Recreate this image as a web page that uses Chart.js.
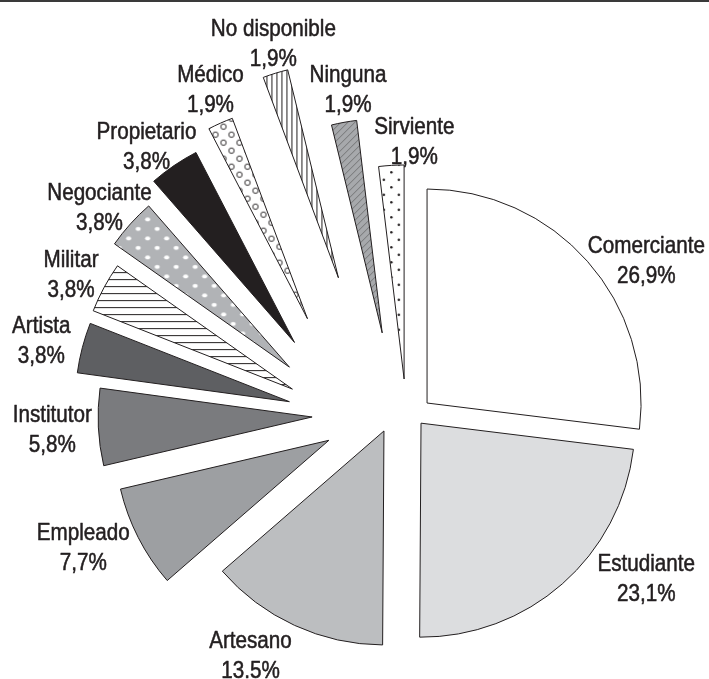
<!DOCTYPE html>
<html><head><meta charset="utf-8">
<script src="https://cdn.jsdelivr.net/npm/chart.js@4.4.1/dist/chart.umd.min.js"></script>
<style>html,body{margin:0;padding:0;background:#fff;}canvas{display:block;}</style>
</head><body>
<canvas id="c" width="709" height="679"></canvas>
<script>
// ---- data ----
const categories = ['Comerciante','Estudiante','Artesano','Empleado','Institutor','Artista','Militar','Negociante','Propietario','Médico','No disponible','Ninguna','Sirviente'];
const shares = [26.9, 23.1, 13.5, 7.7, 5.8, 3.8, 3.8, 3.8, 3.8, 1.9, 1.9, 1.9, 1.9];
const shareLabels = ['26,9%','23,1%','13.5%','7,7%','5,8%','3,8%','3,8%','3,8%','3,8%','1,9%','1,9%','1,9%','1,9%'];

// ---- style: explosion of each slice (radial / tangential px) ----
const explodeRadial = [48.8, 20.8, 2.7, 54.7, 71.3, 98.2, 99.1, 111, 121.1, 131, 157, 93.9, 47.7];
const explodeTangential = [9.8, -31, -1.2, 14.1, 14.4, 1.6, -9.2, -18.1, -25.8, -25.5, 0.7, 15.2, 23];
// label block offset from the slice's outer-arc midpoint
const labelDX = [59, 84, -44, -55, -46, -41, -33, -31, -27.5, -10, -2, 4, 23];
const labelDY = [-1.5, -6.5, 29, 9, 1, -8, -14, -17.5, -20.5, -35, -31, -34, -25];

const INK = '#231f20';
const canvas = document.getElementById('c');
const ctx0 = canvas.getContext('2d');

function pattern(w, h, bg, fn) {
  const c = document.createElement('canvas'); c.width = w; c.height = h;
  const g = c.getContext('2d'); g.fillStyle = bg; g.fillRect(0, 0, w, h); fn(g, w, h);
  return ctx0.createPattern(c, 'repeat');
}
const pMilitar = pattern(8, 7, '#ffffff', (g, w) => { g.strokeStyle = INK; g.lineWidth = 1; g.beginPath(); g.moveTo(0, 3.5); g.lineTo(w, 3.5); g.stroke(); });
const pNegociante = pattern(19, 19, '#b1b3b6', g => { g.fillStyle = '#ffffff'; [[4.75,4.75],[14.25,14.25]].forEach(([x,y]) => { g.beginPath(); g.ellipse(x, y, 2.6, 2.0, 0, 0, Math.PI*2); g.fill(); }); });
const pMedico = pattern(16, 16, '#ffffff', g => { g.strokeStyle = INK; g.lineWidth = 0.9; [[4,4],[12,12]].forEach(([x,y]) => { g.beginPath(); g.arc(x, y, 2.7, 0, Math.PI*2); g.stroke(); }); });
const pNoDisp = pattern(5, 5, '#ffffff', g => { g.strokeStyle = INK; g.lineWidth = 1; g.beginPath(); g.moveTo(2.5, 0); g.lineTo(2.5, 5); g.stroke(); });
const pNinguna = pattern(7, 7, '#a7a9ac', g => { g.strokeStyle = '#5a5a5c'; g.lineWidth = 0.7; g.beginPath(); g.moveTo(0, 7); g.lineTo(7, 0); g.moveTo(-1, 1); g.lineTo(1, -1); g.moveTo(6, 8); g.lineTo(8, 6); g.stroke(); });
const pSirviente = pattern(15, 15, '#ffffff', g => { g.fillStyle = INK; [[3.75,3.75],[11.25,11.25]].forEach(([x,y]) => { g.beginPath(); g.arc(x, y, 1.25, 0, Math.PI*2); g.fill(); }); });

const fills = ['#ffffff', '#dcdddf', '#bcbec0', '#9d9fa2', '#7a7b7e', '#5e5f62', pMilitar, pNegociante, INK, pMedico, pNoDisp, pNinguna, pSirviente];

function shiftOf(arc, i) {
  const a = (arc.startAngle + arc.endAngle) / 2;
  const r = explodeRadial[i], t = explodeTangential[i];
  return { dx: r * Math.cos(a) - t * Math.sin(a), dy: r * Math.sin(a) + t * Math.cos(a), a };
}

const explodePlugin = {
  id: 'explodeLabels',
  beforeDraw(chart) {
    const c = chart.ctx;
    c.save(); c.fillStyle = '#ffffff'; c.fillRect(0, 0, chart.width, chart.height);
    c.strokeStyle = '#3a3a3a'; c.lineWidth = 2; c.beginPath(); c.moveTo(0, 1); c.lineTo(chart.width, 1); c.stroke();
    c.restore();
  },
  beforeDatasetsDraw(chart) {
    const meta = chart.getDatasetMeta(0);
    meta.data.forEach((arc, i) => {
      if (arc._exploded) return;
      const base = arc.draw;
      arc.draw = function (ctx, area) {
        const s = shiftOf(this, i);
        ctx.save(); ctx.translate(s.dx, s.dy); base.call(this, ctx, area); ctx.restore();
      };
      arc._exploded = true;
    });
  },
  afterDatasetsDraw(chart) {
    const c = chart.ctx;
    const meta = chart.getDatasetMeta(0);
    c.save();
    c.fillStyle = INK;
    c.strokeStyle = INK;
    c.lineWidth = 0.55;
    c.lineJoin = 'round';
    c.font = '24px "Liberation Sans", Arial, sans-serif';
    c.textAlign = 'center';
    c.textBaseline = 'alphabetic';
    meta.data.forEach((arc, i) => {
      const s = shiftOf(arc, i);
      const mx = arc.x + s.dx + arc.outerRadius * Math.cos(s.a);
      const my = arc.y + s.dy + arc.outerRadius * Math.sin(s.a);
      const cx = mx + labelDX[i], cy = my + labelDY[i];
      [[chart.data.labels[i], cy - 15], [shareLabels[i], cy + 15]].forEach(([txt, y]) => {
        c.save(); c.translate(cx, y + 8.6); c.scale(0.86, 1); c.fillText(txt, 0, 0); c.strokeText(txt, 0, 0); c.restore();
      });
    });
    c.restore();
  }
};

new Chart(canvas, {
  type: 'pie',
  data: {
    labels: categories,
    datasets: [{
      data: shares,
      backgroundColor: fills,
      borderColor: INK,
      borderWidth: 1,
      borderJoinStyle: 'miter'
    }]
  },
  options: {
    responsive: false,
    devicePixelRatio: 1,
    animation: false,
    events: [],
    radius: 214,
    rotation: 0,
    layout: { padding: { left: 59, right: 0, top: 177, bottom: 0 } },
    plugins: { legend: { display: false }, tooltip: { enabled: false } }
  },
  plugins: [explodePlugin]
});
</script>
</body></html>
